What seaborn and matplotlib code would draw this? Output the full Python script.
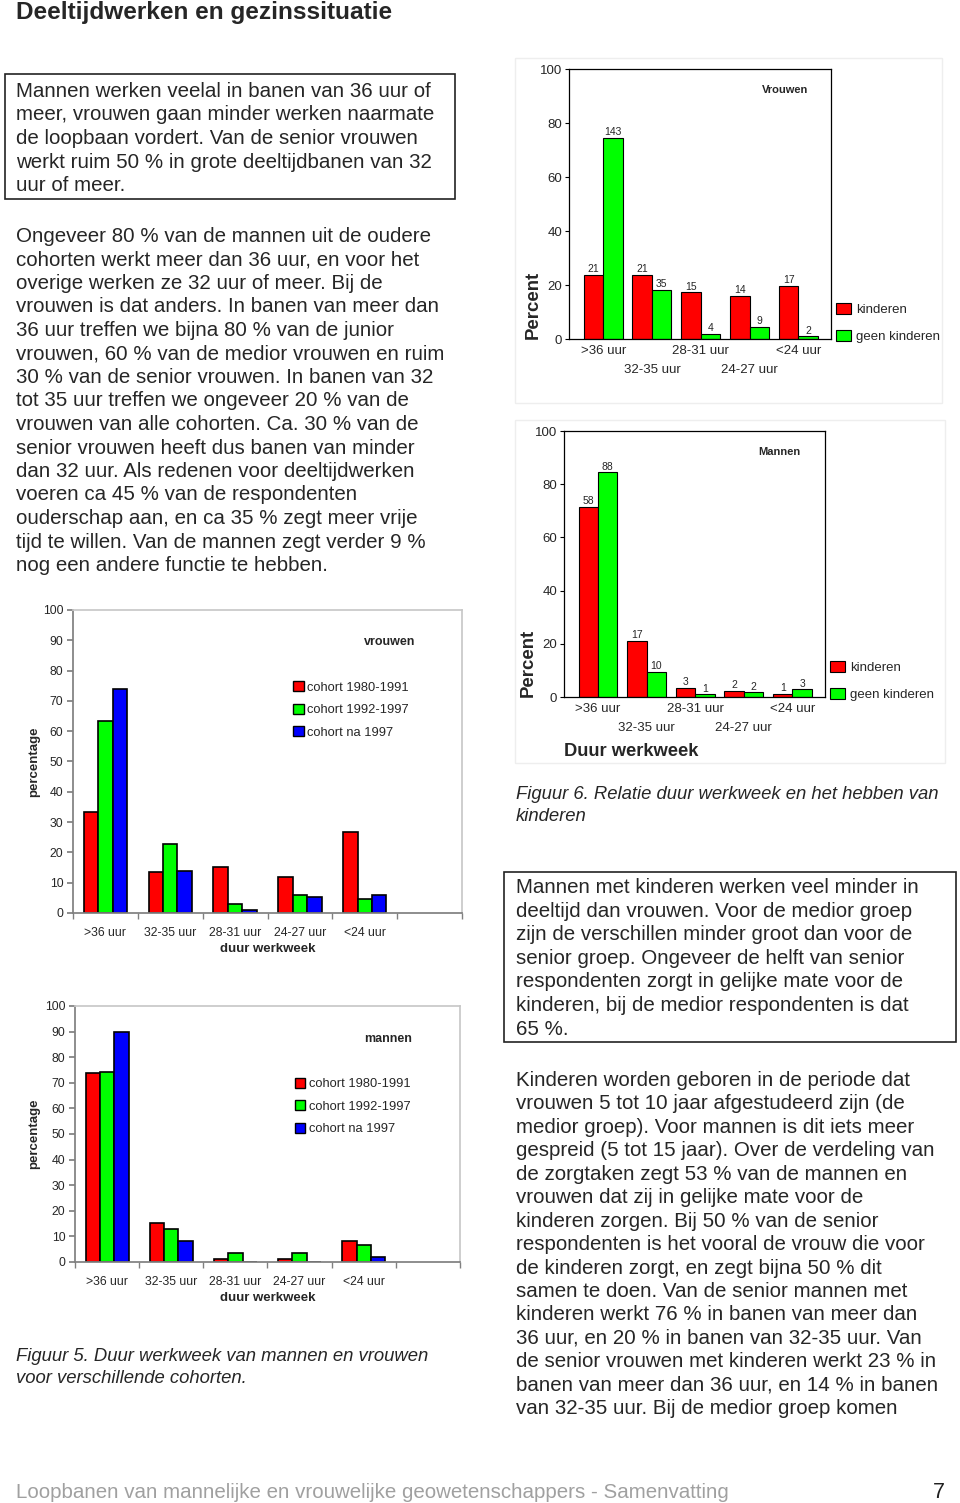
import numpy as np
import pandas as pd
import matplotlib
matplotlib.use('Agg')
import matplotlib.pyplot as plt
import seaborn as sns
from matplotlib.patches import Rectangle, Patch

# --- data ---
categories = ['>36 uur', '32-35 uur', '28-31 uur', '24-27 uur', '<24 uur']
groepen = ['kinderen', 'geen kinderen']

vrouwen_kinderen = [23.8, 23.8, 17.3, 16.0, 19.6]
vrouwen_geen = [74.4, 18.2, 2.0, 4.4, 1.0]
vrouwen_kinderen_n = [21, 21, 15, 14, 17]
vrouwen_geen_n = [143, 35, 4, 9, 2]

mannen_kinderen = [71.4, 21.1, 3.5, 2.3, 1.3]
mannen_geen = [84.5, 9.5, 1.0, 1.8, 2.9]
mannen_kinderen_n = [58, 17, 3, 2, 1]
mannen_geen_n = [88, 10, 1, 2, 3]

cohorts = ['cohort 1980-1991', 'cohort 1992-1997', 'cohort na 1997']
vrouwen_1980 = [33.3, 13.4, 15.1, 11.8, 26.6]
vrouwen_1992 = [63.4, 22.7, 3.1, 5.8, 4.7]
vrouwen_1997 = [73.8, 14.0, 1.0, 5.2, 5.9]
mannen_1980 = [73.7, 15.3, 1.3, 1.3, 8.3]
mannen_1992 = [74.3, 12.9, 3.4, 3.4, 6.5]
mannen_1997 = [90.0, 8.1, 0.0, 0.0, 2.1]

RED, GREEN, BLUE = '#ff0000', '#00ff00', '#0000ff'
W, H = 960, 1503

sns.set_theme(style='white')
plt.rcParams['font.family'] = ['Liberation Sans', 'DejaVu Sans']

fig = plt.figure(figsize=(W / 100, H / 100), dpi=100)


def px_axes(x0, y0, x1, y1):
    return fig.add_axes([x0 / W, 1 - y1 / H, (x1 - x0) / W, (y1 - y0) / H])


def page_lines(x, y0, step, lines, **kw):
    for i, line in enumerate(lines):
        fig.text(x / W, 1 - (y0 + i * step) / H, line, va='baseline', **kw)


def page_box(x0, y0, x1, y1):
    fig.add_artist(Rectangle((x0 / W, 1 - y1 / H), (x1 - x0) / W, (y1 - y0) / H,
                             transform=fig.transFigure, fill=False, ec='#222222', lw=1.2))


def kinderen_chart(ax, kind, geen, kind_n, geen_n, title):
    df = pd.DataFrame({'duur': categories * 2,
                       'groep': [groepen[0]] * 5 + [groepen[1]] * 5,
                       'pct': kind + geen})
    sns.barplot(data=df, x='duur', y='pct', hue='groep', hue_order=groepen,
                palette=[RED, GREEN], saturation=1, width=0.8,
                edgecolor='black', linewidth=0.8, legend=False, ax=ax)
    for cont, labels in zip(ax.containers, [kind_n, geen_n]):
        ax.bar_label(cont, labels=labels, fontsize=7.5, padding=0.5)
    ax.set_xlim(-0.70, 4.67)
    ax.set_ylim(0, 100)
    ax.set_yticks(range(0, 101, 20))
    ax.set_xticks(range(5))
    ax.set_xticklabels(categories)
    ax.tick_params(axis='x', length=0, pad=4, labelsize=9.5)
    # staggered labels: every second one a row lower
    for tick in ax.xaxis.get_major_ticks()[1::2]:
        tick.set_pad(4 + 13.7)
    ax.tick_params(axis='y', length=3, width=0.8, pad=2, labelsize=9.5, left=True, color='black')
    for s in ax.spines.values():
        s.set_color('black')
        s.set_linewidth(0.9)
    ax.set_ylabel('Percent', fontsize=13.4, fontweight='bold', loc='bottom')
    ax.yaxis.set_label_coords(-0.103, 0)
    ax.set_xlabel('')
    ax.text(0.824, 0.922, title, transform=ax.transAxes, ha='center', va='center',
            fontsize=8, fontweight='bold')
    handles = [Patch(fc=RED, ec='black', lw=0.8), Patch(fc=GREEN, ec='black', lw=0.8)]
    ax.legend(handles, groepen, loc='lower left', bbox_to_anchor=(1.02, -0.014),
              frameon=False, fontsize=9.5, handlelength=1.1, handleheight=0.9,
              handletextpad=0.4, labelspacing=1.05, borderpad=0, borderaxespad=0)


def cohort_chart(ax, r, g, b, title, title_y, leg_xy):
    df = pd.DataFrame({'duur': categories * 3,
                       'cohort': [cohorts[0]] * 5 + [cohorts[1]] * 5 + [cohorts[2]] * 5,
                       'pct': r + g + b})
    sns.barplot(data=df, x='duur', y='pct', hue='cohort', hue_order=cohorts,
                palette=[RED, GREEN, BLUE], saturation=1, width=0.67,
                edgecolor='black', linewidth=1.2, legend=False, ax=ax)
    ax.set_xlim(-0.5, 5.5)
    ax.set_ylim(0, 100)
    ax.set_yticks(range(0, 101, 10))
    ax.set_xticks(range(5))
    ax.set_xticks(np.arange(-0.5, 6, 1), minor=True)
    ax.set_xticklabels(categories)
    ax.tick_params(axis='both', labelsize=8.8)
    ax.tick_params(axis='x', which='major', length=0, pad=10)
    ax.tick_params(axis='x', which='minor', length=4, color='#808080', bottom=True)
    ax.tick_params(axis='y', length=4, color='#808080', pad=3, left=True)
    ax.spines['left'].set_color('#808080')
    ax.spines['bottom'].set_color('#808080')
    ax.spines['top'].set_color('#c8c8c8')
    ax.spines['right'].set_color('#c8c8c8')
    ax.set_ylabel('percentage', fontsize=9.5, fontweight='bold')
    ax.set_xlabel('duur werkweek', fontsize=9.5, fontweight='bold', labelpad=3)
    ax.text(0.814, title_y, title, transform=ax.transAxes, ha='center', va='center',
            fontsize=9, fontweight='bold')
    handles = [Patch(fc=c, ec='black', lw=1) for c in (RED, GREEN, BLUE)]
    ax.legend(handles, cohorts, loc='upper left', bbox_to_anchor=leg_xy,
              frameon=False, fontsize=9.3,
              handlelength=0.8, handleheight=0.8, handletextpad=0.3,
              labelspacing=0.78, borderpad=0, borderaxespad=0)


# light frames round the SPSS charts
for x0, y0, x1, y1 in [(515, 58, 942, 403), (515, 420, 945, 763)]:
    fig.add_artist(Rectangle((x0 / W, 1 - y1 / H), (x1 - x0) / W, (y1 - y0) / H,
                             transform=fig.transFigure, fill=False, ec='#eeeeee', lw=1))

ax_a = px_axes(569, 69, 831, 339)
kinderen_chart(ax_a, vrouwen_kinderen, vrouwen_geen, vrouwen_kinderen_n, vrouwen_geen_n, 'Vrouwen')

ax_b = px_axes(564, 431, 825, 697)
kinderen_chart(ax_b, mannen_kinderen, mannen_geen, mannen_kinderen_n, mannen_geen_n, 'Mannen')
ax_b.set_xlabel('Duur werkweek', fontsize=13.2, fontweight='bold', loc='left', labelpad=7)

ax_c = px_axes(73, 610, 462, 913)
cohort_chart(ax_c, vrouwen_1980, vrouwen_1992, vrouwen_1997, 'vrouwen', 0.894, (0.566, 0.765))
ax_c.yaxis.set_label_coords(-0.085, 0.5)

ax_d = px_axes(75, 1006, 460, 1262)
cohort_chart(ax_d, mannen_1980, mannen_1992, mannen_1997, 'mannen', 0.871, (0.571, 0.72))
ax_d.yaxis.set_label_coords(-0.09, 0.5)

# --- page text ---
fig.text(16 / W, 1 - 19 / H, 'Deeltijdwerken en gezinssituatie', va='baseline',
         fontsize=17.6, fontweight='bold')

page_box(5, 74, 455, 199)
page_lines(16, 97, 23.5, [
    'Mannen werken veelal in banen van 36 uur of',
    'meer, vrouwen gaan minder werken naarmate',
    'de loopbaan vordert. Van de senior vrouwen',
    'werkt ruim 50 % in grote deeltijdbanen van 32',
    'uur of meer.',
], fontsize=14.8)

page_lines(16, 242, 23.5, [
    'Ongeveer 80 % van de mannen uit de oudere',
    'cohorten werkt meer dan 36 uur, en voor het',
    'overige werken ze 32 uur of meer. Bij de',
    'vrouwen is dat anders. In banen van meer dan',
    '36 uur treffen we bijna 80 % van de junior',
    'vrouwen, 60 % van de medior vrouwen en ruim',
    '30 % van de senior vrouwen. In banen van 32',
    'tot 35 uur treffen we ongeveer 20 % van de',
    'vrouwen van alle cohorten. Ca. 30 % van de',
    'senior vrouwen heeft dus banen van minder',
    'dan 32 uur. Als redenen voor deeltijdwerken',
    'voeren ca 45 % van de respondenten',
    'ouderschap aan, en ca 35 % zegt meer vrije',
    'tijd te willen. Van de mannen zegt verder 9 %',
    'nog een andere functie te hebben.',
], fontsize=14.8)

page_lines(516, 799, 22, [
    'Figuur 6. Relatie duur werkweek en het hebben van',
    'kinderen',
], fontsize=13.3, style='italic')

page_box(504, 872, 956, 1042)
page_lines(516, 893, 23.6, [
    'Mannen met kinderen werken veel minder in',
    'deeltijd dan vrouwen. Voor de medior groep',
    'zijn de verschillen minder groot dan voor de',
    'senior groep. Ongeveer de helft van senior',
    'respondenten zorgt in gelijke mate voor de',
    'kinderen, bij de medior respondenten is dat',
    '65 %.',
], fontsize=14.8)

page_lines(516, 1086, 23.45, [
    'Kinderen worden geboren in de periode dat',
    'vrouwen 5 tot 10 jaar afgestudeerd zijn (de',
    'medior groep). Voor mannen is dit iets meer',
    'gespreid (5 tot 15 jaar). Over de verdeling van',
    'de zorgtaken zegt 53 % van de mannen en',
    'vrouwen dat zij in gelijke mate voor de',
    'kinderen zorgen. Bij 50 % van de senior',
    'respondenten is het vooral de vrouw die voor',
    'de kinderen zorgt, en zegt bijna 50 % dit',
    'samen te doen. Van de senior mannen met',
    'kinderen werkt 76 % in banen van meer dan',
    '36 uur, en 20 % in banen van 32-35 uur. Van',
    'de senior vrouwen met kinderen werkt 23 % in',
    'banen van meer dan 36 uur, en 14 % in banen',
    'van 32-35 uur. Bij de medior groep komen',
], fontsize=14.8)

page_lines(16, 1361, 22, [
    'Figuur 5. Duur werkweek van mannen en vrouwen',
    'voor verschillende cohorten.',
], fontsize=13.3, style='italic')

fig.text(16 / W, 1 - 1498 / H,
         'Loopbanen van mannelijke en vrouwelijke geowetenschappers - Samenvatting',
         va='baseline', fontsize=14.8, color='#a0a0a0')
fig.text(933 / W, 1 - 1498 / H, '7', va='baseline', fontsize=15.5, color='#202020')

fig.savefig('out.png', dpi=100)
